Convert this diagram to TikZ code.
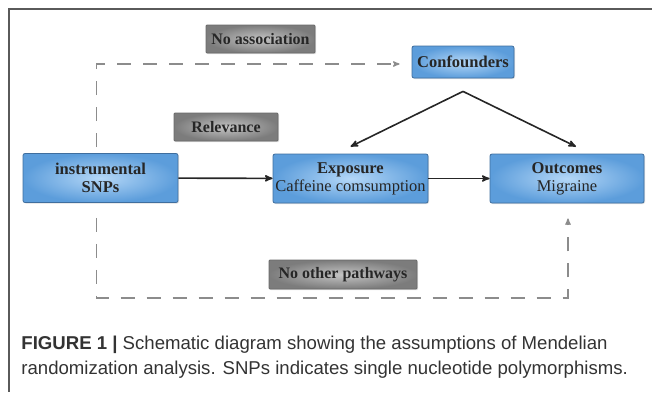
\documentclass[tikz,border=0pt]{standalone}
\usepackage{fontspec}
\setmainfont{Liberation Serif}
\newfontfamily\capfont{Liberation Sans}
\usepackage{tikz}
\usetikzlibrary{arrows, shadows}

\definecolor{boxin}{HTML}{B4D7F7}
\definecolor{boxout}{HTML}{5C9DDB}
\definecolor{boxedge}{HTML}{3F6E9E}
\definecolor{grayin}{HTML}{C4C4C4}
\definecolor{grayout}{HTML}{7C7C7C}
\definecolor{grayedge}{HTML}{6A6A6A}
\definecolor{dashgray}{HTML}{8C8C8C}
\definecolor{framegray}{HTML}{5A5A5A}

\begin{document}
\begin{tikzpicture}[x=1pt, y=-1pt,
	>=stealth',
	thick,
	bluebox/.style={draw=boxedge, rounded corners=2pt, inner color=boxin, outer color=boxout,
		minimum height=49pt, inner sep=2pt, align=center, text=black!85,
		font=\fontsize{16.5}{18}\selectfont,
		drop shadow={shadow xshift=1pt, shadow yshift=-1pt, opacity=0.25}},
	graybox/.style={draw=grayedge, rounded corners=1pt, inner color=grayin, outer color=grayout,
		minimum height=28pt, align=center, text=black!85,
		font=\fontsize{16}{18}\selectfont\bfseries,
		drop shadow={shadow xshift=1pt, shadow yshift=-1pt, opacity=0.25}},
	dashline/.style={draw=dashgray, line width=1.3pt, dash pattern=on 14pt off 12pt},
	arrline/.style={->, black!85, line width=1.6pt}]

	\useasboundingbox (0,0) rectangle (652,392);
	\draw[framegray, line width=1.2pt] (652,9) -- (9,9) -- (9,392);

	% boxes
	\node[bluebox, minimum width=155pt] (snp) at (100.5,178) {\textbf{instrumental}\\\textbf{SNPs}};
	\node[bluebox, minimum width=155pt] (expo) at (350.5,178.5) {\textbf{Exposure}\\Caffeine comsumption};
	\node[bluebox, minimum width=154pt] (out) at (567,178.5) {\textbf{Outcomes}\\Migraine};
	\node[bluebox, minimum width=102pt, minimum height=32pt] (conf) at (463,62) {\textbf{Confounders}};

	\node[graybox, minimum width=109pt] (noassoc) at (260.5,39) {No association};
	\node[graybox, minimum width=104pt] (relev) at (226,127) {Relevance};
	\node[graybox, minimum width=148pt, minimum height=29pt] (nopath) at (343,274.5) {No other pathways};

	% arrows
	\coordinate (top) at ([yshift=-13pt]conf.south);
	\coordinate (el) at ([yshift=7pt]expo.north);
	\coordinate (er) at ([xshift=9pt, yshift=7pt]out.north);
	\draw[arrline] (snp) -- (expo);
	\draw[arrline] (expo) -- (out);
	\draw[arrline] (top) -- (el);
	\draw[arrline] (top) -- (er);

	\draw[dashline, ->] ([xshift=-4pt, yshift=6pt]snp.north) |- ([xshift=-12pt, yshift=-2pt]conf.west);
	\draw[dashline, ->] ([xshift=-4pt, yshift=-15pt]snp.south) -- ++(0,80) -| ([xshift=1pt, yshift=-15pt]out.south);

	% caption
	\node[anchor=base west, inner sep=0pt, text=black!80, font=\capfont\fontsize{18.6}{22}\selectfont] (cap1) at (21,349)
		{\textbf{FIGURE 1 |} Schematic diagram showing the assumptions of Mendelian};
	\node[anchor=base west, inner sep=0pt, text=black!80, font=\capfont\fontsize{18.6}{22}\selectfont] (cap2) at (21,374)
		{randomization analysis. SNPs indicates single nucleotide polymorphisms.};
\end{tikzpicture}
\end{document}
